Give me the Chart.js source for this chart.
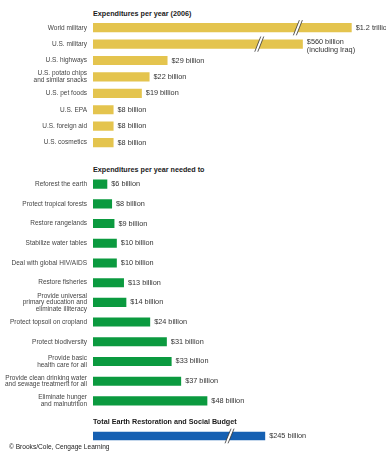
<!DOCTYPE html>
<html>
<head>
<meta charset="utf-8">
<script src="https://cdn.jsdelivr.net/npm/chart.js@4.4.1/dist/chart.umd.min.js"></script>
<style>
  body { margin: 0; background: #fff; width: 386px; height: 453px; position: relative; overflow: hidden; font-family: "Liberation Sans", Arial, sans-serif; }
  .box { position: absolute; left: 0; width: 386px; }
  .head { position: absolute; left: 93px; font-weight: bold; font-size: 7.2px; line-height: 10px; color: #1a1a1a; white-space: nowrap; }
  .credit { position: absolute; left: 9px; top: 442px; font-size: 6.6px; line-height: 10px; color: #222; }
</style>
</head>
<body>
<div class="head" style="top:9px">Expenditures per year (2006)</div>
<div class="box" style="top:0;height:160px"><canvas id="spendChart"></canvas></div>
<div class="head" style="top:165px">Expenditures per year needed to</div>
<div class="box" style="top:160px;height:260px"><canvas id="needChart"></canvas></div>
<div class="head" style="top:417px">Total Earth Restoration and Social Budget</div>
<div class="box" style="top:420px;height:33px"><canvas id="totalChart"></canvas></div>
<div class="credit">© Brooks/Cole, Cengage Learning</div>
<script>
// 2006 spending
const spendLabels = ['World military', 'U.S. military', 'U.S. highways', ['U.S. potato chips', 'and similar snacks'],
  'U.S. pet foods', 'U.S. EPA', 'U.S. foreign aid', 'U.S. cosmetics'];
const spendValues = [1200, 560, 29, 22, 19, 8, 8, 8];
const spendText = [['$1.2 trillion'], ['$560 billion', '(including Iraq)'], ['$29 billion'], ['$22 billion'],
  ['$19 billion'], ['$8 billion'], ['$8 billion'], ['$8 billion']];

// needed spending
const needLabels = ['Reforest the earth', 'Protect tropical forests', 'Restore rangelands', 'Stabilize water tables',
  'Deal with global HIV/AIDS', 'Restore fisheries',
  ['Provide universal', 'primary education and', 'eliminate illiteracy'],
  'Protect topsoil on cropland', 'Protect biodiversity', ['Provide basic', 'health care for all'],
  ['Provide clean drinking water', 'and sewage treatment for all'], ['Eliminate hunger', 'and malnutrition']];
const needValues = [6, 8, 9, 10, 10, 13, 14, 24, 31, 33, 37, 48];
const needText = needValues.map(v => ['$' + v + ' billion']);

// total
const totalLabels = ['Total'];
const totalValues = [245];
const totalText = [['$245 billion']];

// axis break: values above BREAK_AT get squeezed
const BREAK_AT = 67, SQUEEZE = 0.0297;

class BrokenScale extends Chart.LinearScale {
  getPixelForValue(v) {
    const d = v > BREAK_AT ? BREAK_AT + (v - BREAK_AT) * SQUEEZE : v;
    return super.getPixelForValue(d);
  }
}
BrokenScale.id = 'broken';
BrokenScale.defaults = Chart.LinearScale.defaults;
Chart.register(BrokenScale);

const barText = {
  id: 'barText',
  afterDatasetsDraw(chart, args, opts) {
    const ctx = chart.ctx;
    const meta = chart.getDatasetMeta(0);
    const values = chart.data.datasets[0].data;
    ctx.save();
    ctx.font = '7.3px "Liberation Sans"';
    ctx.textBaseline = 'middle';
    meta.data.forEach((bar, i) => {
      const lines = opts.text[i];
      ctx.fillStyle = '#333';
      lines.forEach((t, j) => {
        ctx.fillText(t, bar.x + 4, bar.y - (lines.length - 1) * 2.5 + j * 8.5);
      });
      if (values[i] > BREAK_AT) {
        // break marks
        const px = bar.base + 0.79 * (bar.x - bar.base);
        const top = bar.y - bar.height / 2 - 3, bot = bar.y + bar.height / 2 + 3;
        ctx.beginPath();
        ctx.moveTo(px - 4, bot); ctx.lineTo(px + 2, top);
        ctx.lineTo(px + 5, top); ctx.lineTo(px - 1, bot);
        ctx.closePath();
        ctx.fillStyle = '#fff';
        ctx.fill();
        ctx.strokeStyle = '#333';
        ctx.lineWidth = 0.8;
        ctx.beginPath();
        ctx.moveTo(px - 4, bot); ctx.lineTo(px + 2, top);
        ctx.moveTo(px - 1, bot); ctx.lineTo(px + 5, top);
        ctx.stroke();
      }
    });
    ctx.restore();
  }
};

function makeChart(id, labels, values, text, color, opts) {
  return new Chart(document.getElementById(id), {
    type: 'bar',
    data: {
      labels: labels,
      datasets: [{ data: values, backgroundColor: color, barPercentage: opts.bar, categoryPercentage: 1 }]
    },
    options: {
      indexAxis: 'y',
      responsive: true,
      maintainAspectRatio: false,
      animation: false,
      layout: { padding: { top: opts.top, bottom: opts.bottom, left: 0, right: 0 } },
      plugins: {
        legend: { display: false },
        tooltip: { enabled: false },
        barText: { text: text }
      },
      scales: {
        x: { type: 'broken', display: false, min: 0, max: opts.max },
        y: {
          grid: { display: false, drawTicks: false },
          border: { display: false },
          ticks: {
            display: opts.ticks,
            autoSkip: false,
            padding: 6,
            color: '#444',
            font: { family: 'Liberation Sans', size: 6.5, lineHeight: 1 }
          },
          afterFit(scale) { scale.width = 93; }
        }
      }
    },
    plugins: [barText]
  });
}

const spendChart = makeChart('spendChart', spendLabels, spendValues, spendText, '#E4C44E',
  { bar: 0.56, top: 19.5, bottom: 4.5, max: 114, ticks: true });
const needChart = makeChart('needChart', needLabels, needValues, needText, '#0B9A3F',
  { bar: 0.46, top: 14.3, bottom: 5, max: 123, ticks: true });
const totalChart = makeChart('totalChart', totalLabels, totalValues, totalText, '#1660B2',
  { bar: 0.72, top: 10, bottom: 11, max: 123, ticks: false });
</script>
</body>
</html>
